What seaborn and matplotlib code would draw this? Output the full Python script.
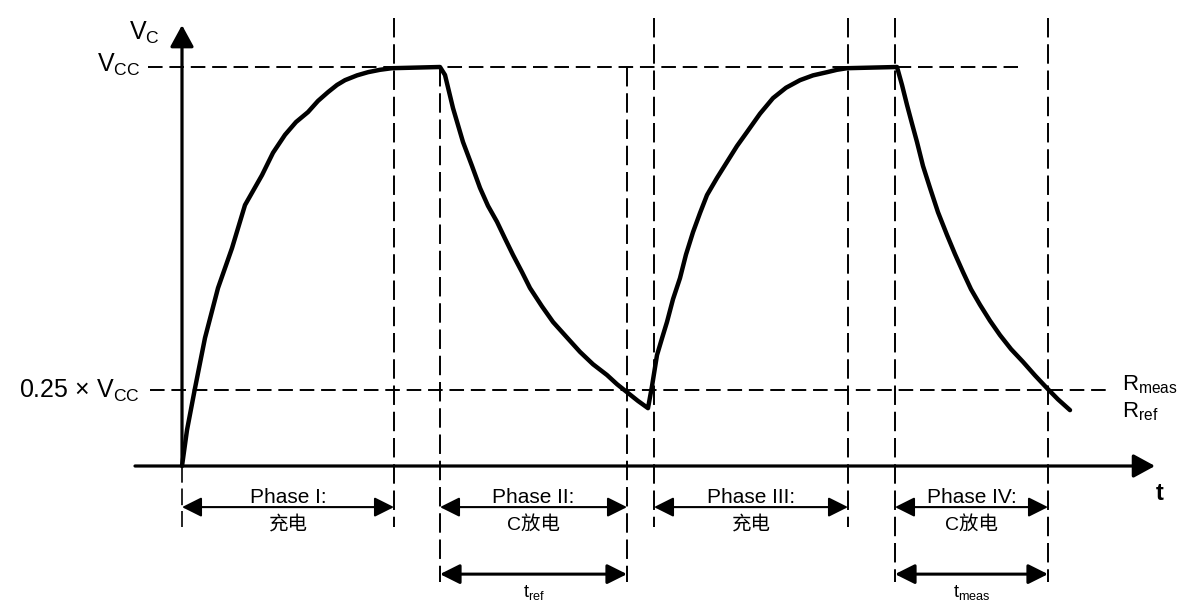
import matplotlib
matplotlib.use("Agg")
import matplotlib.pyplot as plt
import seaborn as sns
import pandas as pd

# capacitor voltage
# t in drawing units (0 = start of charge), v as a fraction of Vcc
curve_t = [0, 5, 13, 23, 36, 50, 63, 80, 91, 103, 114, 126, 136, 146, 155, 163, 175, 186, 198, 210, 258,
           263, 271, 281, 290, 298, 306, 315, 323, 331, 340, 348, 360, 371, 385, 398, 411, 425, 435, 445, 456, 466,
           470, 475, 480, 485, 491, 498, 504, 511, 518, 525, 535, 545, 555, 565, 578, 591, 604, 618, 631, 645, 655, 665, 715,
           720, 725, 730, 735, 741, 748, 756, 765, 773, 781, 789, 798, 808, 818, 829, 841, 853, 865, 876, 888]
curve_v = [0.0, 0.09, 0.195, 0.321, 0.446, 0.546, 0.654, 0.729, 0.785, 0.830, 0.862, 0.887, 0.915, 0.937, 0.955, 0.967, 0.979, 0.987, 0.993, 0.997, 1.0,
           0.980, 0.897, 0.812, 0.752, 0.697, 0.652, 0.612, 0.570, 0.529, 0.486, 0.446, 0.400, 0.361, 0.322, 0.286, 0.255, 0.228, 0.205, 0.185, 0.163, 0.145,
           0.200, 0.278, 0.320, 0.361, 0.418, 0.471, 0.530, 0.586, 0.634, 0.679, 0.722, 0.762, 0.802, 0.837, 0.883, 0.922, 0.948, 0.967, 0.979, 0.987, 0.993, 0.997, 1.0,
           0.955, 0.905, 0.858, 0.812, 0.752, 0.697, 0.636, 0.579, 0.531, 0.486, 0.443, 0.404, 0.364, 0.328, 0.293, 0.261, 0.227, 0.195, 0.167, 0.140]

V_CC = 1.0
V_LOW = 0.19   # drawn level of 0.25 x Vcc

phase_names = ["Phase I:", "Phase II:", "Phase III:", "Phase IV:"]
phase_modes = ["充电", "C放电", "充电", "C放电"]
phase_start = [0, 258, 472, 713]
phase_end = [212, 445, 666, 866]
timer_labels = [r"t$_\mathrm{ref}$", r"t$_\mathrm{meas}$"]
timer_start = [258, 713]
timer_end = [445, 866]

sns.set_theme(style="white")
plt.rcParams["font.family"] = ["Liberation Sans", "Noto Sans CJK SC"]
plt.rcParams["mathtext.fontset"] = "custom"
plt.rcParams["mathtext.rm"] = "Liberation Sans"
plt.rcParams["text.color"] = "black"

fig = plt.figure(figsize=(11.98, 6.04), dpi=100)
ax = fig.add_axes([0, 0, 1, 1])
ax.set_xlim(-182, 1016)
ax.set_ylim(-138 / 399, 466 / 399)
ax.axis("off")

df = pd.DataFrame({"t": curve_t, "v": curve_v})
sns.lineplot(data=df, x="t", y="v", sort=False, estimator=None,
             color="black", lw=3.2, ax=ax, zorder=5,
             solid_joinstyle="round", solid_capstyle="round")

# horizontal guide lines
hdash = (0, (7.5, 3.5))
ax.plot([-34, 836], [V_CC, V_CC], color="black", lw=1.4, ls=hdash)
ax.plot([-32, 925], [V_LOW, V_LOW], color="black", lw=1.4, ls=hdash)

# vertical guide lines
top, vcc_top = 1.123, V_CC
short, long_ = -0.153, -0.291
vdash = (0, (10, 3.5))
ax.plot([0, 0], [0, short], color="black", lw=1.2, ls=vdash)
ax.plot([phase_end[0]] * 2, [top, short], color="black", lw=1.4, ls=vdash)
ax.plot([phase_start[1]] * 2, [vcc_top, long_], color="black", lw=1.4, ls=vdash)
ax.plot([phase_end[1]] * 2, [vcc_top, long_], color="black", lw=1.4, ls=vdash)
ax.plot([phase_start[2]] * 2, [top, short], color="black", lw=1.4, ls=vdash)
ax.plot([phase_end[2]] * 2, [top, short], color="black", lw=1.4, ls=vdash)
ax.plot([phase_start[3]] * 2, [top, long_], color="black", lw=1.4, ls=vdash)
ax.plot([phase_end[3]] * 2, [top, long_], color="black", lw=1.4, ls=vdash)

# axes with arrow heads
axis_arrow = dict(arrowstyle="-|>,head_length=1.1,head_width=0.6", lw=2.3,
                  color="black", mutation_scale=12, shrinkA=0, shrinkB=0)
ax.annotate("", xy=(0, 1.105), xytext=(0, 0), arrowprops=axis_arrow)
ax.annotate("", xy=(973, 0), xytext=(-47, 0), arrowprops=axis_arrow)

# phase spans
span_arrow = dict(arrowstyle="<|-|>,head_length=1.0,head_width=0.5", lw=1.5,
                  color="black", mutation_scale=12, shrinkA=0, shrinkB=0)
for name, mode, a, b in zip(phase_names, phase_modes, phase_start, phase_end):
    ax.annotate("", xy=(b, -0.103), xytext=(a, -0.103), arrowprops=span_arrow)
    ax.text((a + b) / 2, -0.093, name, ha="center", va="baseline", fontsize=15)
    ax.text((a + b) / 2, -0.148, mode, ha="center", va="center", fontsize=14)

timer_arrow = dict(span_arrow, lw=2.2)
for lab, a, b in zip(timer_labels, timer_start, timer_end):
    ax.annotate("", xy=(b, -0.271), xytext=(a, -0.271), arrowprops=timer_arrow)
    ax.text((a + b) / 2, -0.318, lab, ha="center", va="center", fontsize=13)

# axis labels
ax.text(-22, 1.068, r"V$_\mathrm{C}$", ha="right", va="baseline", fontsize=18)
ax.text(-42, 0.987, r"V$_\mathrm{CC}$", ha="right", va="baseline", fontsize=18)
ax.text(-42, 0.170, r"0.25 × V$_\mathrm{CC}$", ha="right", va="baseline", fontsize=18)
ax.text(940, 0.19, r"R$_\mathrm{meas}$", ha="left", va="baseline", fontsize=16)
ax.text(940, 0.123, r"R$_\mathrm{ref}$", ha="left", va="baseline", fontsize=16)
ax.text(978, -0.068, "t", ha="center", va="center", fontsize=17, fontweight="bold")

fig.savefig("out.png", dpi=100, facecolor="white")
